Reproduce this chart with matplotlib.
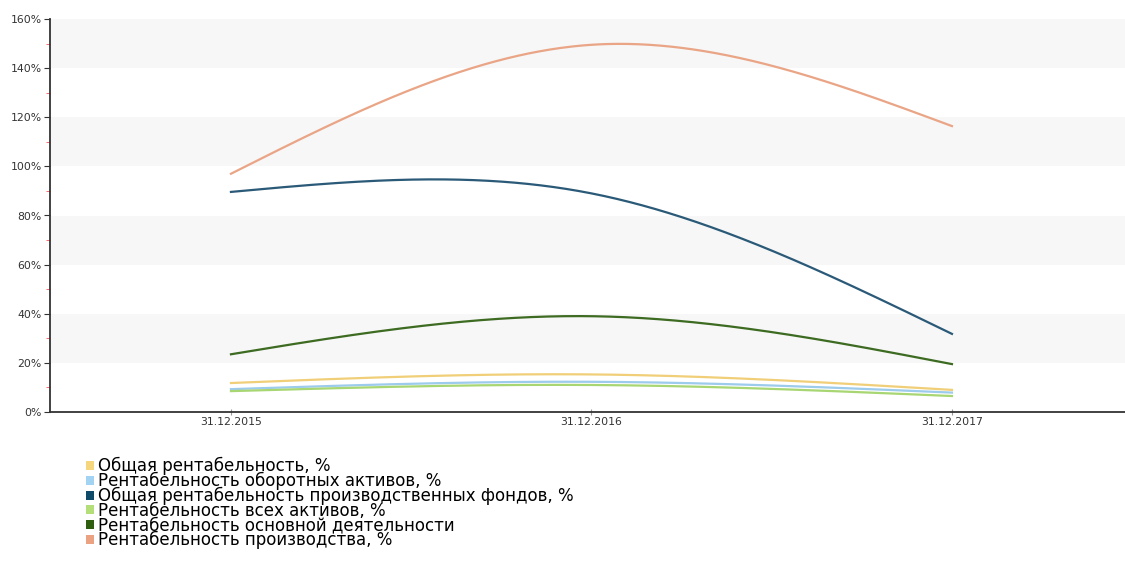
"""Динамика показателей рентабельности по годам."""
import numpy as np
from matplotlib import pyplot as plt
from matplotlib.patches import Patch
from matplotlib.ticker import MultipleLocator, FuncFormatter

dates = ['31.12.2015', '31.12.2016', '31.12.2017']

obshchaya = [11.8, 15.3, 9.0]
oborotnye = [9.3, 12.3, 7.9]
proizv_fondy = [89.6, 89.0, 31.8]
vse_aktivy = [8.5, 11.0, 6.5]
osnovnaya = [23.5, 39.0, 19.5]
proizvodstvo = [97.0, 149.5, 116.4]

labels = [
    'Общая рентабельность, %',
    'Рентабельность оборотных активов, %',
    'Общая рентабельность производственных фондов, %',
    'Рентабельность всех активов, %',
    'Рентабельность основной деятельности',
    'Рентабельность производства, %',
]
series = [obshchaya, oborotnye, proizv_fondy, vse_aktivy, osnovnaya,
          proizvodstvo]
line_colors = ['#f0cf78', '#9ccbec', '#2b5a78', '#a8d672', '#3d6b22',
               '#e9a586']
patch_colors = ['#f5d67c', '#a2d3f2', '#0f4a68', '#b3de78', '#2f5e10',
                '#eba283']


def natural_spline(y, n=200):
    """Натуральный кубический сплайн по равноотстоящим точкам."""
    y = np.asarray(y, dtype=float)
    k = len(y)
    A = np.zeros((k, k))
    b = np.zeros(k)
    A[0, 0] = A[-1, -1] = 1
    for i in range(1, k - 1):
        A[i, i - 1:i + 2] = [1, 4, 1]
        b[i] = 6 * (y[i - 1] - 2 * y[i] + y[i + 1])
    m = np.linalg.solve(A, b)
    xs, ys = [], []
    for i in range(k - 1):
        t = np.linspace(0, 1, n)
        s = (m[i] * (1 - t) ** 3 / 6 + m[i + 1] * t ** 3 / 6
             + (y[i] - m[i] / 6) * (1 - t) + (y[i + 1] - m[i + 1] / 6) * t)
        xs.append(i + t)
        ys.append(s)
    return np.concatenate(xs), np.concatenate(ys)


fig = plt.figure(figsize=(11.25, 5.64), dpi=100)
ax = fig.add_axes([50 / 1125, 1 - 412 / 564, 1 - 50 / 1125, 393 / 564])

# полосы фона
for lo in range(20, 160, 40):
    ax.axhspan(lo, lo + 20, color='#f7f7f7', zorder=0, lw=0)

for vals, col in zip(series, line_colors):
    x, y = natural_spline(vals)
    ax.plot(x, y, color=col, linewidth=1.6, zorder=3)

ax.set_xlim(-0.502, 2.48)
ax.set_ylim(0, 160)
ax.set_xticks(range(len(dates)))
ax.set_xticklabels(dates)
ax.yaxis.set_major_locator(MultipleLocator(20))
ax.yaxis.set_minor_locator(MultipleLocator(10))
ax.yaxis.set_major_formatter(FuncFormatter(lambda v, _: f'{v:.0f}%'))

for side in ['top', 'right']:
    ax.spines[side].set_visible(False)
for side in ['left', 'bottom']:
    ax.spines[side].set_color('#333333')
    ax.spines[side].set_linewidth(1.3)

ax.tick_params(axis='y', which='major', length=4, color='#333333',
               labelsize=7.8, labelcolor='#333333', pad=2)
ax.tick_params(axis='y', which='minor', length=3, color='#ff5050')
ax.tick_params(axis='x', length=5, direction='inout', color='#999999',
               labelsize=7.8, labelcolor='#333333', pad=1)

handles = [Patch(facecolor=c, edgecolor='none') for c in patch_colors]
fig.legend(handles, labels, loc='upper left',
           bbox_to_anchor=(86 / 1125, 1 - 457 / 564), frameon=False,
           fontsize=12, handlelength=0.45, handleheight=0.45,
           handletextpad=0.25, labelspacing=-0.2, borderaxespad=0,
           borderpad=0)

fig.savefig('out.png', dpi=100)
